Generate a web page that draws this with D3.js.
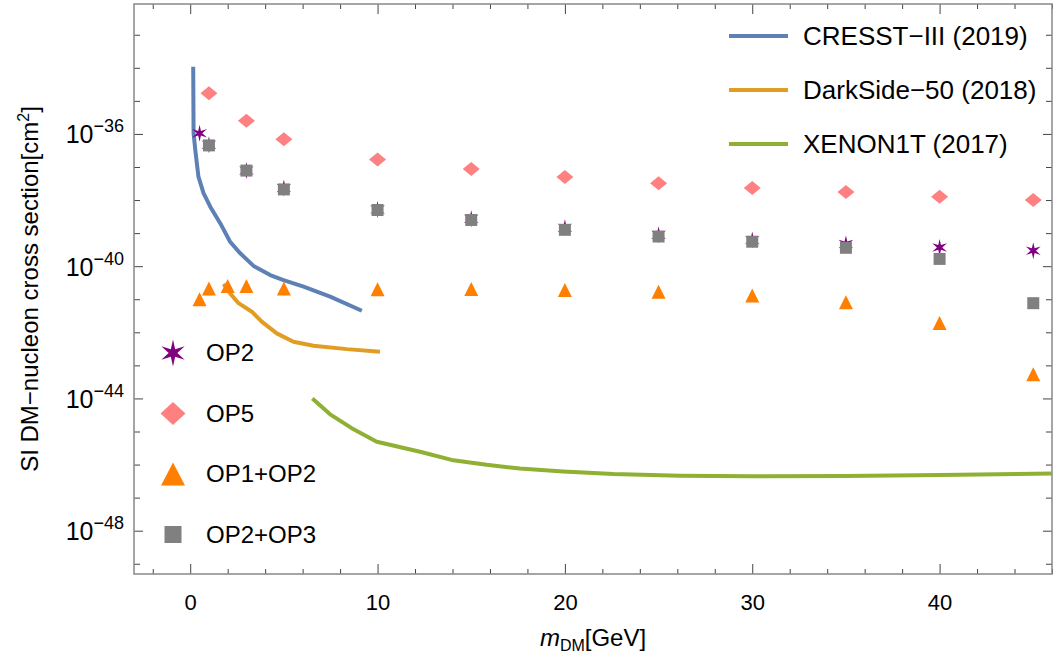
<!DOCTYPE html>
<html>
<head>
<meta charset="utf-8">
<script src="https://cdn.jsdelivr.net/npm/d3@7/dist/d3.min.js"></script>
<style>
  body { margin: 0; background: #fff; }
  text { font-family: "Liberation Sans", Arial, sans-serif; fill: #000; }
</style>
</head>
<body>
<svg id="chart" width="1056" height="657"></svg>
<script>
// experimental limits (mass in GeV, cross section in cm^2)
var cresstMass  = [0.16, 0.18, 0.27, 0.44, 0.71, 1.07, 1.6, 2.13, 2.67, 3.38, 4.27, 4.98, 6.05, 7.47, 9.16];
var cresstSigma = [1.07e-34, 1.07e-36, 3.3e-37, 5.1e-38, 1.62e-38, 6.3e-39, 2.0e-39, 5.5e-40, 2.45e-40, 1.02e-40, 5.4e-41, 3.8e-41, 2.4e-41, 1.2e-41, 4.5e-42];

var darksideMass  = [1.78, 2.13, 2.58, 3.29, 3.82, 4.62, 5.51, 6.58, 8.36, 10.13];
var darksideSigma = [2.9e-41, 1.5e-41, 7.6e-42, 4.2e-42, 2.1e-42, 9.3e-43, 5.2e-43, 3.9e-43, 3.1e-43, 2.6e-43];

var xenonMass  = [6.52, 7.47, 8.62, 9.96, 12.27, 13.95, 15.82, 17.6, 19.91, 22.58, 26.13, 30, 35, 40, 46];
var xenonSigma = [1.0e-44, 3.3e-45, 1.26e-45, 4.9e-46, 2.45e-46, 1.38e-46, 9.8e-47, 7.6e-47, 6.2e-47, 5.2e-47, 4.6e-47, 4.4e-47, 4.5e-47, 4.8e-47, 5.4e-47];

// operator points
var op2Mass  = [0.5, 1, 3, 5, 10, 15, 20, 25, 30, 35, 40, 45];
var op2Sigma = [1.05e-36, 4.7e-37, 7.8e-38, 2.3e-38, 5.2e-39, 2.7e-39, 1.45e-39, 8.9e-40, 6.2e-40, 4.7e-40, 3.7e-40, 2.95e-40];

var op5Mass  = [1, 3, 5, 10, 15, 20, 25, 30, 35, 40, 45];
var op5Sigma = [1.7e-35, 2.5e-36, 6.9e-37, 1.7e-37, 8.7e-38, 5.0e-38, 3.2e-38, 2.3e-38, 1.74e-38, 1.26e-38, 1.0e-38];

var op12Mass  = [0.5, 1, 2, 3, 5, 10, 15, 20, 25, 30, 35, 40, 45];
var op12Sigma = [1.0e-41, 2.1e-41, 2.5e-41, 2.5e-41, 2.1e-41, 2.0e-41, 2.05e-41, 1.9e-41, 1.7e-41, 1.3e-41, 8.1e-42, 1.9e-42, 5.4e-44];

var op23Mass  = [1, 3, 5, 10, 15, 20, 25, 30, 35, 40, 45];
var op23Sigma = [4.5e-37, 7.8e-38, 2.1e-38, 5.0e-39, 2.5e-39, 1.26e-39, 7.9e-40, 5.5e-40, 3.6e-40, 1.66e-40, 7.6e-42];

var xMajor = [0, 10, 20, 30, 40];
var yMajorExp = [-36, -40, -44, -48];
var lineNames = ["CRESST\u2212III (2019)", "DarkSide\u221250 (2018)", "XENON1T (2017)"];
var pointNames = ["OP2", "OP5", "OP1+OP2", "OP2+OP3"];

// plot box ("top" is reserved on window, so prefixed names)
var pLeft = 134, pRight = 1052, pTop = 4, pBottom = 574;

var svg = d3.select("#chart");

var x = d3.scaleLinear().domain([-3, 46]).range([pLeft, pRight]);
var y = d3.scaleLog().domain([Math.pow(10, -49.31), Math.pow(10, -32.07)]).range([pBottom, pTop]);

svg.append("defs").append("clipPath").attr("id", "clip")
  .append("rect").attr("x", pLeft).attr("y", pTop).attr("width", pRight - pLeft).attr("height", pBottom - pTop);

// marker shapes
function starPath(R) {
  var r = R * 0.32, pts = [];
  for (var i = 0; i < 12; i++) {
    var a = -Math.PI / 2 + i * Math.PI / 6, rad = (i % 2) ? r : R;
    pts.push([rad * Math.cos(a), rad * Math.sin(a)]);
  }
  return "M" + pts.join("L") + "Z";
}
function diamondPath(w, h) {
  return "M0," + (-h) + "L" + w + ",0L0," + h + "L" + (-w) + ",0Z";
}
function trianglePath(w, h) {
  return "M0," + (-h) + "L" + w + "," + h + "L" + (-w) + "," + h + "Z";
}
function squarePath(s) {
  return "M" + (-s) + "," + (-s) + "H" + s + "V" + s + "H" + (-s) + "Z";
}

var markers = [
  { mass: op2Mass,  sigma: op2Sigma,  color: "#800080", plot: starPath(8.5),        legend: starPath(13.5) },
  { mass: op5Mass,  sigma: op5Sigma,  color: "#ff8080", plot: diamondPath(8.5, 7),  legend: diamondPath(12.5, 11.5) },
  { mass: op12Mass, sigma: op12Sigma, color: "#ff7f00", plot: trianglePath(7, 7),   legend: trianglePath(12, 11.5) },
  { mass: op23Mass, sigma: op23Sigma, color: "#808080", plot: squarePath(6),        legend: squarePath(8.5) }
];

var curves = [
  { mass: cresstMass,   sigma: cresstSigma,   color: "#5e81b5" },
  { mass: darksideMass, sigma: darksideSigma, color: "#e19c24" },
  { mass: xenonMass,    sigma: xenonSigma,    color: "#8fb032" }
];

// frame ticks (inside, on all four sides)
var xMinor = d3.range(-2, 47, 2).filter(function (v) { return v % 10 !== 0; });
var yMinor = d3.range(-49, -32).filter(function (e) { return yMajorExp.indexOf(e) < 0; }).map(function (e) { return Math.pow(10, e); });
var yMajor = yMajorExp.map(function (e) { return Math.pow(10, e); });

function tickGroup(axis, tx, ty) {
  var g = svg.append("g").attr("transform", "translate(" + tx + "," + ty + ")").call(axis);
  g.select(".domain").remove();
  g.selectAll(".tick line").attr("stroke", "#444").attr("stroke-width", 1);
  return g;
}

tickGroup(d3.axisBottom(x).tickValues(xMinor).tickSize(-5).tickFormat(""), 0, pBottom);
tickGroup(d3.axisTop(x).tickValues(xMinor).tickSize(-5).tickFormat(""), 0, pTop);
tickGroup(d3.axisTop(x).tickValues(xMajor).tickSize(-10).tickFormat(""), 0, pTop);
var xAx = tickGroup(d3.axisBottom(x).tickValues(xMajor).tickSize(-10).tickPadding(20).tickFormat(d3.format("d")), 0, pBottom);
xAx.selectAll(".tick text").attr("font-size", 22).attr("fill", "#000")
  .attr("font-family", "'Liberation Sans', Arial, sans-serif");

tickGroup(d3.axisLeft(y).tickValues(yMinor).tickSize(-6).tickFormat(""), pLeft, 0);
tickGroup(d3.axisRight(y).tickValues(yMinor).tickSize(-6).tickFormat(""), pRight, 0);
tickGroup(d3.axisRight(y).tickValues(yMajor).tickSize(-9).tickFormat(""), pRight, 0);
var yAx = tickGroup(d3.axisLeft(y).tickValues(yMajor).tickSize(-9).tickFormat(""), pLeft, 0);

yAx.selectAll(".tick").each(function (d) {
  var t = d3.select(this).append("text")
    .attr("x", -10).attr("y", 9)
    .attr("text-anchor", "end")
    .attr("font-size", 25)
    .attr("font-family", "'Liberation Sans', Arial, sans-serif");
  t.append("tspan").text("10");
  t.append("tspan").attr("dy", -11).attr("font-size", 18)
    .text("\u2212" + Math.round(-Math.log10(d)));
});

// frame
svg.append("rect")
  .attr("x", pLeft).attr("y", pTop).attr("width", pRight - pLeft).attr("height", pBottom - pTop)
  .attr("fill", "none").attr("stroke", "#888").attr("stroke-width", 1.5);

// limit curves
var line = d3.line()
  .x(function (d) { return x(d[0]); })
  .y(function (d) { return y(d[1]); });

var plot = svg.append("g").attr("clip-path", "url(#clip)");

curves.forEach(function (c) {
  plot.append("path")
    .datum(d3.zip(c.mass, c.sigma))
    .attr("d", line)
    .attr("fill", "none")
    .attr("stroke", c.color)
    .attr("stroke-width", 4)
    .attr("stroke-linejoin", "round");
});

// points
markers.forEach(function (m) {
  plot.selectAll(null)
    .data(d3.zip(m.mass, m.sigma))
    .enter()
    .append("path")
    .attr("d", m.plot)
    .attr("transform", function (d) { return "translate(" + x(d[0]) + "," + y(d[1]) + ")"; })
    .attr("fill", m.color);
});

// line legend (top right)
var lineLeg = svg.append("g");
curves.forEach(function (c, i) {
  var ly = 36 + i * 54;
  lineLeg.append("line")
    .attr("x1", 729).attr("x2", 788).attr("y1", ly).attr("y2", ly)
    .attr("stroke", c.color).attr("stroke-width", 4);
  lineLeg.append("text")
    .attr("x", 803).attr("y", ly + 9)
    .attr("font-size", 26)
    .text(lineNames[i]);
});

// marker legend (bottom left)
var ptLeg = svg.append("g");
markers.forEach(function (m, i) {
  var ly = 353 + i * 60.5;
  ptLeg.append("path")
    .attr("d", m.legend)
    .attr("transform", "translate(173," + ly + ")")
    .attr("fill", m.color);
  ptLeg.append("text")
    .attr("x", 206).attr("y", ly + 8)
    .attr("font-size", 24)
    .text(pointNames[i]);
});

// axis titles
var xt = svg.append("text")
  .attr("x", (pLeft + pRight) / 2).attr("y", 646)
  .attr("text-anchor", "middle")
  .attr("font-size", 24);
xt.append("tspan").attr("font-style", "italic").text("m");
xt.append("tspan").attr("font-size", 16).attr("dy", 5).text("DM");
xt.append("tspan").attr("dy", -5).text("[GeV]");

var yt = svg.append("text")
  .attr("transform", "translate(38," + ((pTop + pBottom) / 2) + ") rotate(-90)")
  .attr("text-anchor", "middle")
  .attr("font-size", 24);
yt.append("tspan").text("SI DM\u2212nucleon cross section[cm");
yt.append("tspan").attr("dy", -9).attr("font-size", 16).text("2");
yt.append("tspan").attr("dy", 9).text("]");
</script>
</body>
</html>
